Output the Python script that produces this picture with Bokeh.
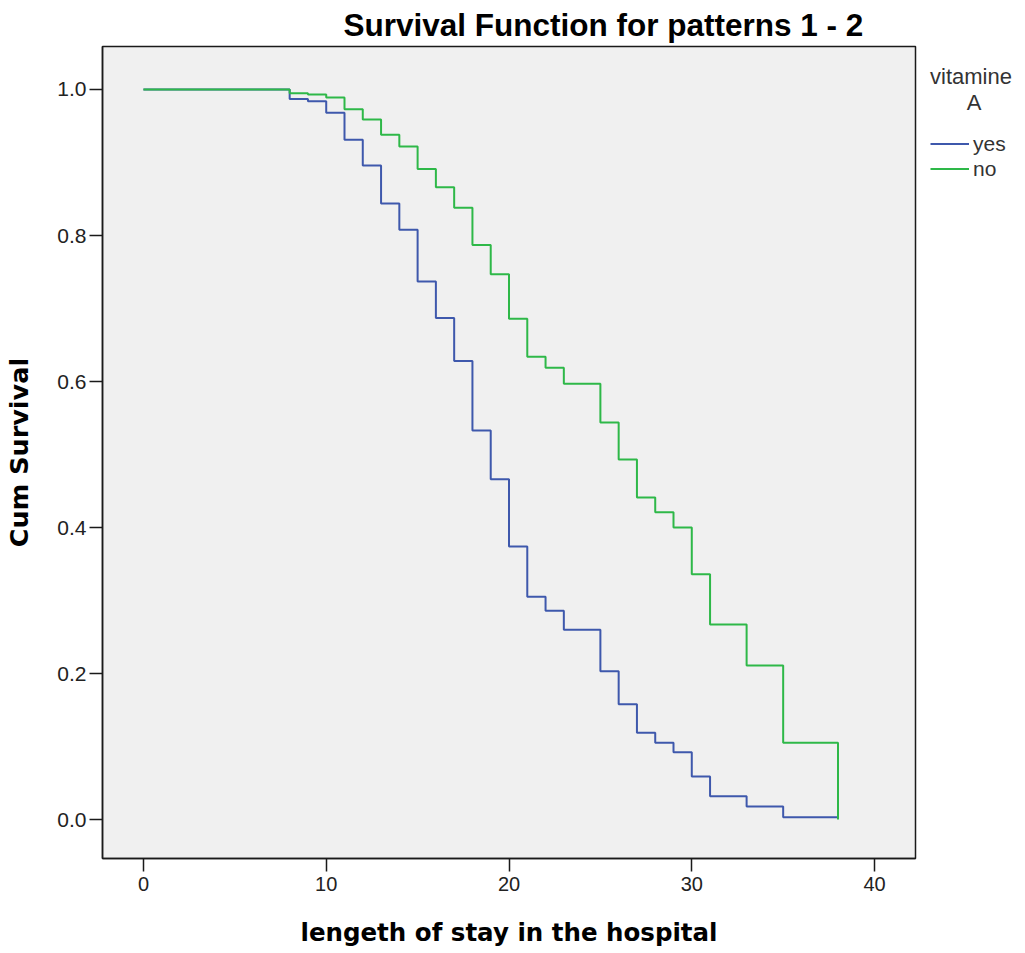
from bokeh.plotting import figure
from bokeh.layouts import row
from bokeh.models import Range1d, FixedTicker, Legend, LegendItem
from bokeh.embed import file_html
from bokeh.resources import INLINE

# ---- data ----
time_yes = [0, 8, 9, 10, 11, 12, 13, 14, 15, 16, 17, 18, 19, 20, 21, 22, 23, 25, 26, 27, 28, 29, 30, 31, 33, 35, 38]
surv_yes = [1.0, 0.987, 0.984, 0.968, 0.931, 0.896, 0.844, 0.808, 0.737, 0.687, 0.628, 0.533, 0.466, 0.374,
            0.305, 0.286, 0.260, 0.203, 0.158, 0.119, 0.105, 0.092, 0.059, 0.032, 0.018, 0.003, 0.003]

time_no = [0, 8, 9, 10, 11, 12, 13, 14, 15, 16, 17, 18, 19, 20, 21, 22, 23, 25, 26, 27, 28, 29, 30, 31, 33, 35, 38]
surv_no = [1.0, 0.995, 0.993, 0.989, 0.973, 0.959, 0.938, 0.922, 0.891, 0.866, 0.838, 0.787, 0.747, 0.686,
           0.634, 0.619, 0.597, 0.544, 0.493, 0.441, 0.421, 0.400, 0.336, 0.267, 0.211, 0.105, 0.0]

series_labels = ["yes", "no"]
legend_title = "vitamine\n" + "\u00a0" * 6 + "A"
x_ticks = [0, 10, 20, 30, 40]
x_tick_labels = ["0", "10", "20", "30", "40"]
y_ticks = [0.0, 0.2, 0.4, 0.6, 0.8, 1.0]
y_tick_labels = ["0.0", "0.2", "0.4", "0.6", "0.8", "1.0"]

title_text = "Survival Function for patterns 1 - 2"
x_label = "lengeth of stay in the hospital"
y_label = "Cum Survival"

BLUE = "#3E58AC"
GREEN = "#2EB848"

# ---- main chart ----
p = figure(width=920, height=953, output_backend="svg", toolbar_location=None,
           x_range=Range1d(-2.24, 42.24), y_range=Range1d(-0.0534, 1.0589),
           min_border_left=102, min_border_right=5, min_border_top=46, min_border_bottom=95)

p.background_fill_color = "#F0F0F0"
p.border_fill_color = "white"
p.outline_line_color = "#1a1a1a"
p.outline_line_width = 1.5
p.grid.visible = False

p.title.text = title_text
p.title.align = "left"
p.title.offset = 241
p.title.text_font = "Liberation Sans"
p.title.text_font_size = "31.5px"
p.title.text_font_style = "bold"
p.title.text_color = "black"
p.title.standoff = 8

p.step(time_yes, surv_yes, mode="after", line_color=BLUE, line_width=2)
p.step(time_no, surv_no, mode="after", line_color=GREEN, line_width=2)

for ax in (p.xaxis[0], p.yaxis[0]):
    ax.axis_line_color = "#1a1a1a"
    ax.axis_line_width = 1.5
    ax.major_tick_line_color = "#1a1a1a"
    ax.major_tick_line_width = 1.5
    ax.minor_tick_line_color = None
    ax.major_tick_in = 0
    ax.major_tick_out = 13
    ax.major_label_text_color = "#222222"
    ax.major_label_text_font = "Liberation Sans"
    ax.axis_label_text_font = "DejaVu Sans"
    ax.axis_label_text_font_style = "bold"
    ax.axis_label_text_color = "black"

xa = p.xaxis[0]
xa.ticker = FixedTicker(ticks=x_ticks)
xa.major_label_overrides = dict(zip(x_ticks, x_tick_labels))
xa.major_label_text_font_size = "20px"
xa.major_label_standoff = 5
xa.axis_label = x_label
xa.axis_label_text_font_size = "24.5px"
xa.axis_label_standoff = 24

ya = p.yaxis[0]
ya.ticker = FixedTicker(ticks=y_ticks)
ya.major_label_overrides = dict(zip(y_ticks, y_tick_labels))
ya.major_label_text_font_size = "21px"
ya.major_label_standoff = 3
ya.axis_label = y_label
ya.axis_label_text_font_size = "25.5px"
ya.axis_label_standoff = 20

# ---- legend panel (separate narrow figure, same series drawn out of view) ----
q = figure(width=105, height=953, output_backend="svg", toolbar_location=None,
           x_range=Range1d(1000, 1001), y_range=Range1d(1000, 1001),
           x_axis_type=None, y_axis_type=None,
           min_border_left=0, min_border_right=0, min_border_top=0, min_border_bottom=0)
q.outline_line_color = None
q.background_fill_color = "white"
q.border_fill_color = "white"
q.grid.visible = False
lr_yes = q.step(time_yes, surv_yes, mode="after", line_color=BLUE, line_width=2)
lr_no = q.step(time_no, surv_no, mode="after", line_color=GREEN, line_width=2)

legend = Legend(items=[LegendItem(label=series_labels[0], renderers=[lr_yes]),
                       LegendItem(label=series_labels[1], renderers=[lr_no])],
                title=legend_title, location=(10, 677))
legend.padding = 0
legend.margin = 0
legend.border_line_color = None
legend.background_fill_alpha = 0
legend.spacing = 0
legend.label_standoff = 4
legend.glyph_width = 39
legend.glyph_height = 25
legend.label_height = 25
legend.label_text_font = "Liberation Sans"
legend.label_text_font_size = "21px"
legend.label_text_color = "#333333"
legend.title_text_font = "Liberation Sans"
legend.title_text_font_size = "22px"
legend.title_text_font_style = "normal"
legend.title_text_color = "#333333"
legend.title_standoff = 15
q.add_layout(legend)

open("out.html", "w").write(file_html(row(p, q), INLINE))
